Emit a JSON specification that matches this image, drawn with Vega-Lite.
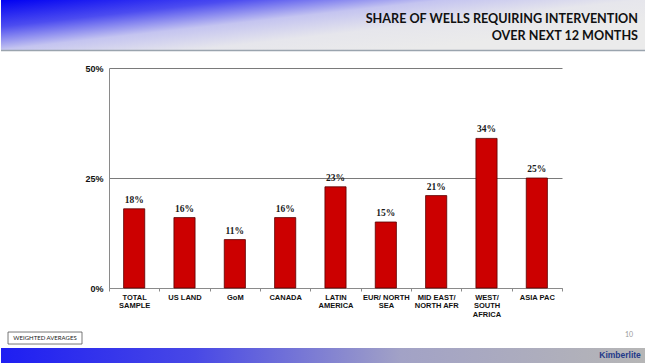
{
  "$schema": "https://vega.github.io/schema/vega-lite/v6.json",
  "padding": 0,
  "background": "white",
  "spacing": 0,
  "bounds": "flush",
  "config": {"view": {"stroke": null}, "concat": {"spacing": 0}},
  "vconcat": [
    {
      "width": 645,
      "height": 51,
      "data": {"values": [{"title": "SHARE OF WELLS REQUIRING INTERVENTION / OVER NEXT 12 MONTHS"}]},
      "layer": [
        {
          "mark": {
            "type": "rect",
            "fill": {
              "gradient": "linear",
              "x1": 0, "y1": 0, "x2": 0.88, "y2": 0.62,
              "stops": [
                {"offset": 0, "color": "#0000f2"},
                {"offset": 0.28, "color": "#4c4cf0"},
                {"offset": 0.52, "color": "#c4c4f0"},
                {"offset": 0.75, "color": "#e6e6ec"},
                {"offset": 1, "color": "#ebebeb"}
              ]
            }
          },
          "encoding": {
            "x": {"datum": 0, "type": "quantitative", "scale": {"domain": [0, 1], "nice": false, "zero": false}, "axis": null},
            "x2": {"datum": 1},
            "y": {"datum": 0, "type": "quantitative", "scale": {"domain": [0, 1], "nice": false, "zero": false, "reverse": true}, "axis": null},
            "y2": {"datum": 1}
          }
        },
        {
          "mark": {"type": "rule", "color": "#9aa4ae", "strokeWidth": 1.5},
          "encoding": {
            "x": {"datum": 0, "type": "quantitative"},
            "x2": {"datum": 1},
            "y": {"datum": 0.99, "type": "quantitative"}
          }
        },
        {
          "mark": {
            "type": "text",
            "text": ["SHARE OF WELLS REQUIRING INTERVENTION", "OVER NEXT 12 MONTHS"],
            "align": "right",
            "baseline": "alphabetic",
            "font": "Lato",
            "fontWeight": "bold",
            "fontSize": 12.6,
            "lineHeight": 16.5,
            "color": "#111111"
          },
          "encoding": {
            "x": {"datum": 0.9876, "type": "quantitative"},
            "y": {"datum": 0.451, "type": "quantitative"}
          }
        }
      ]
    },
    {
      "width": 645,
      "height": 17,
      "data": {"values": []},
      "mark": "point"
    },
    {
      "width": 645,
      "height": 220,
      "data": {
        "values": [
          {"region": "TOTAL\nSAMPLE", "share": 0.18},
          {"region": "US LAND", "share": 0.16},
          {"region": "GoM", "share": 0.11},
          {"region": "CANADA", "share": 0.16},
          {"region": "LATIN\nAMERICA", "share": 0.23},
          {"region": "EUR/ NORTH\nSEA", "share": 0.15},
          {"region": "MID EAST/\nNORTH AFR", "share": 0.21},
          {"region": "WEST/\nSOUTH\nAFRICA", "share": 0.34},
          {"region": "ASIA PAC", "share": 0.25}
        ]
      },
      "encoding": {
        "x": {
          "field": "region",
          "type": "nominal",
          "sort": null,
          "scale": {"paddingInner": 0, "paddingOuter": 0, "range": [108, 561]},
          "axis": {
            "title": null,
            "labelAngle": 0,
            "labelExpr": "split(datum.label, '\\n')",
            "labelFont": "Liberation Sans",
            "labelFontWeight": "bold",
            "labelFontSize": 7.5,
            "labelColor": "#111111",
            "labelLineHeight": 8.5,
            "labelBaseline": "top",
            "labelPadding": 2,
            "labelLimit": 0,
            "tickBand": "extent",
            "tickSize": 3,
            "tickColor": "#8a8a8a",
            "domainColor": "#8a8a8a"
          }
        },
        "y": {
          "field": "share",
          "type": "quantitative",
          "scale": {"domain": [0, 0.5], "nice": false},
          "axis": {
            "title": null,
            "offset": -108,
            "values": [0, 0.25, 0.5],
            "format": ".0%",
            "labelFont": "Liberation Sans",
            "labelFontWeight": "bold",
            "labelFontSize": 9,
            "labelColor": "#111111",
            "labelPadding": 6,
            "ticks": false,
            "grid": true,
            "gridColor": "#7a7a7a",
            "gridWidth": 1,
            "domainColor": "#8a8a8a"
          }
        }
      },
      "layer": [
        {"mark": {"type": "bar", "width": {"band": 0.42}, "fill": "#cc0000", "stroke": "#5a0000", "strokeWidth": 0.8}},
        {
          "mark": {"type": "text", "dy": -4, "baseline": "bottom", "font": "Liberation Serif", "fontWeight": "bold", "fontSize": 9.5, "color": "#1a1a1a"},
          "encoding": {"text": {"field": "share", "type": "quantitative", "format": ".0%"}}
        },
        {
          "data": {"values": [{"edge": "ASIA PAC"}]},
          "mark": {"type": "rule", "color": "#8a8a8a", "strokeWidth": 1},
          "encoding": {
            "x": {"datum": "ASIA PAC", "bandPosition": 1},
            "y": {"datum": 0},
            "y2": {"datum": 0.5}
          }
        }
      ]
    },
    {
      "width": 645,
      "height": 75,
      "data": {"values": [{"note": "WEIGHTED AVERAGES"}]},
      "layer": [
        {
          "mark": {
            "type": "rect",
            "fill": {
              "gradient": "linear",
              "x1": 0, "y1": 0, "x2": 1, "y2": 0,
              "stops": [
                {"offset": 0, "color": "#1e1ef2"},
                {"offset": 0.3, "color": "#4848e6"},
                {"offset": 0.62, "color": "#a2a2c6"},
                {"offset": 1, "color": "#b6b6b6"}
              ]
            }
          },
          "encoding": {
            "x": {"datum": 0, "type": "quantitative", "scale": {"domain": [0, 1], "nice": false, "zero": false}, "axis": null},
            "x2": {"datum": 1},
            "y": {"datum": 0.8, "type": "quantitative", "scale": {"domain": [0, 1], "nice": false, "zero": false, "reverse": true}, "axis": null},
            "y2": {"datum": 1}
          }
        },
        {
          "mark": {"type": "rect", "fill": "white", "stroke": "#555555", "strokeWidth": 0.8},
          "encoding": {
            "x": {"datum": 0.0109, "type": "quantitative"},
            "x2": {"datum": 0.1256},
            "y": {"datum": 0.587, "type": "quantitative"},
            "y2": {"datum": 0.747}
          }
        },
        {
          "mark": {"type": "text", "font": "Lato", "fontSize": 6, "color": "#222222", "align": "center", "baseline": "middle"},
          "encoding": {
            "text": {"field": "note"},
            "x": {"datum": 0.0682, "type": "quantitative"},
            "y": {"datum": 0.667, "type": "quantitative"}
          }
        },
        {
          "mark": {"type": "text", "text": "10", "font": "Lato", "fontSize": 7, "color": "#9a9a9a", "align": "right", "baseline": "middle"},
          "encoding": {
            "x": {"datum": 0.98, "type": "quantitative"},
            "y": {"datum": 0.627, "type": "quantitative"}
          }
        },
        {
          "mark": {"type": "text", "text": "Kimberlite", "font": "Liberation Sans", "fontWeight": "bold", "fontSize": 8.5, "color": "#1f3a8a", "align": "right", "baseline": "middle"},
          "encoding": {
            "x": {"datum": 0.992, "type": "quantitative"},
            "y": {"datum": 0.893, "type": "quantitative"}
          }
        }
      ]
    }
  ]
}
